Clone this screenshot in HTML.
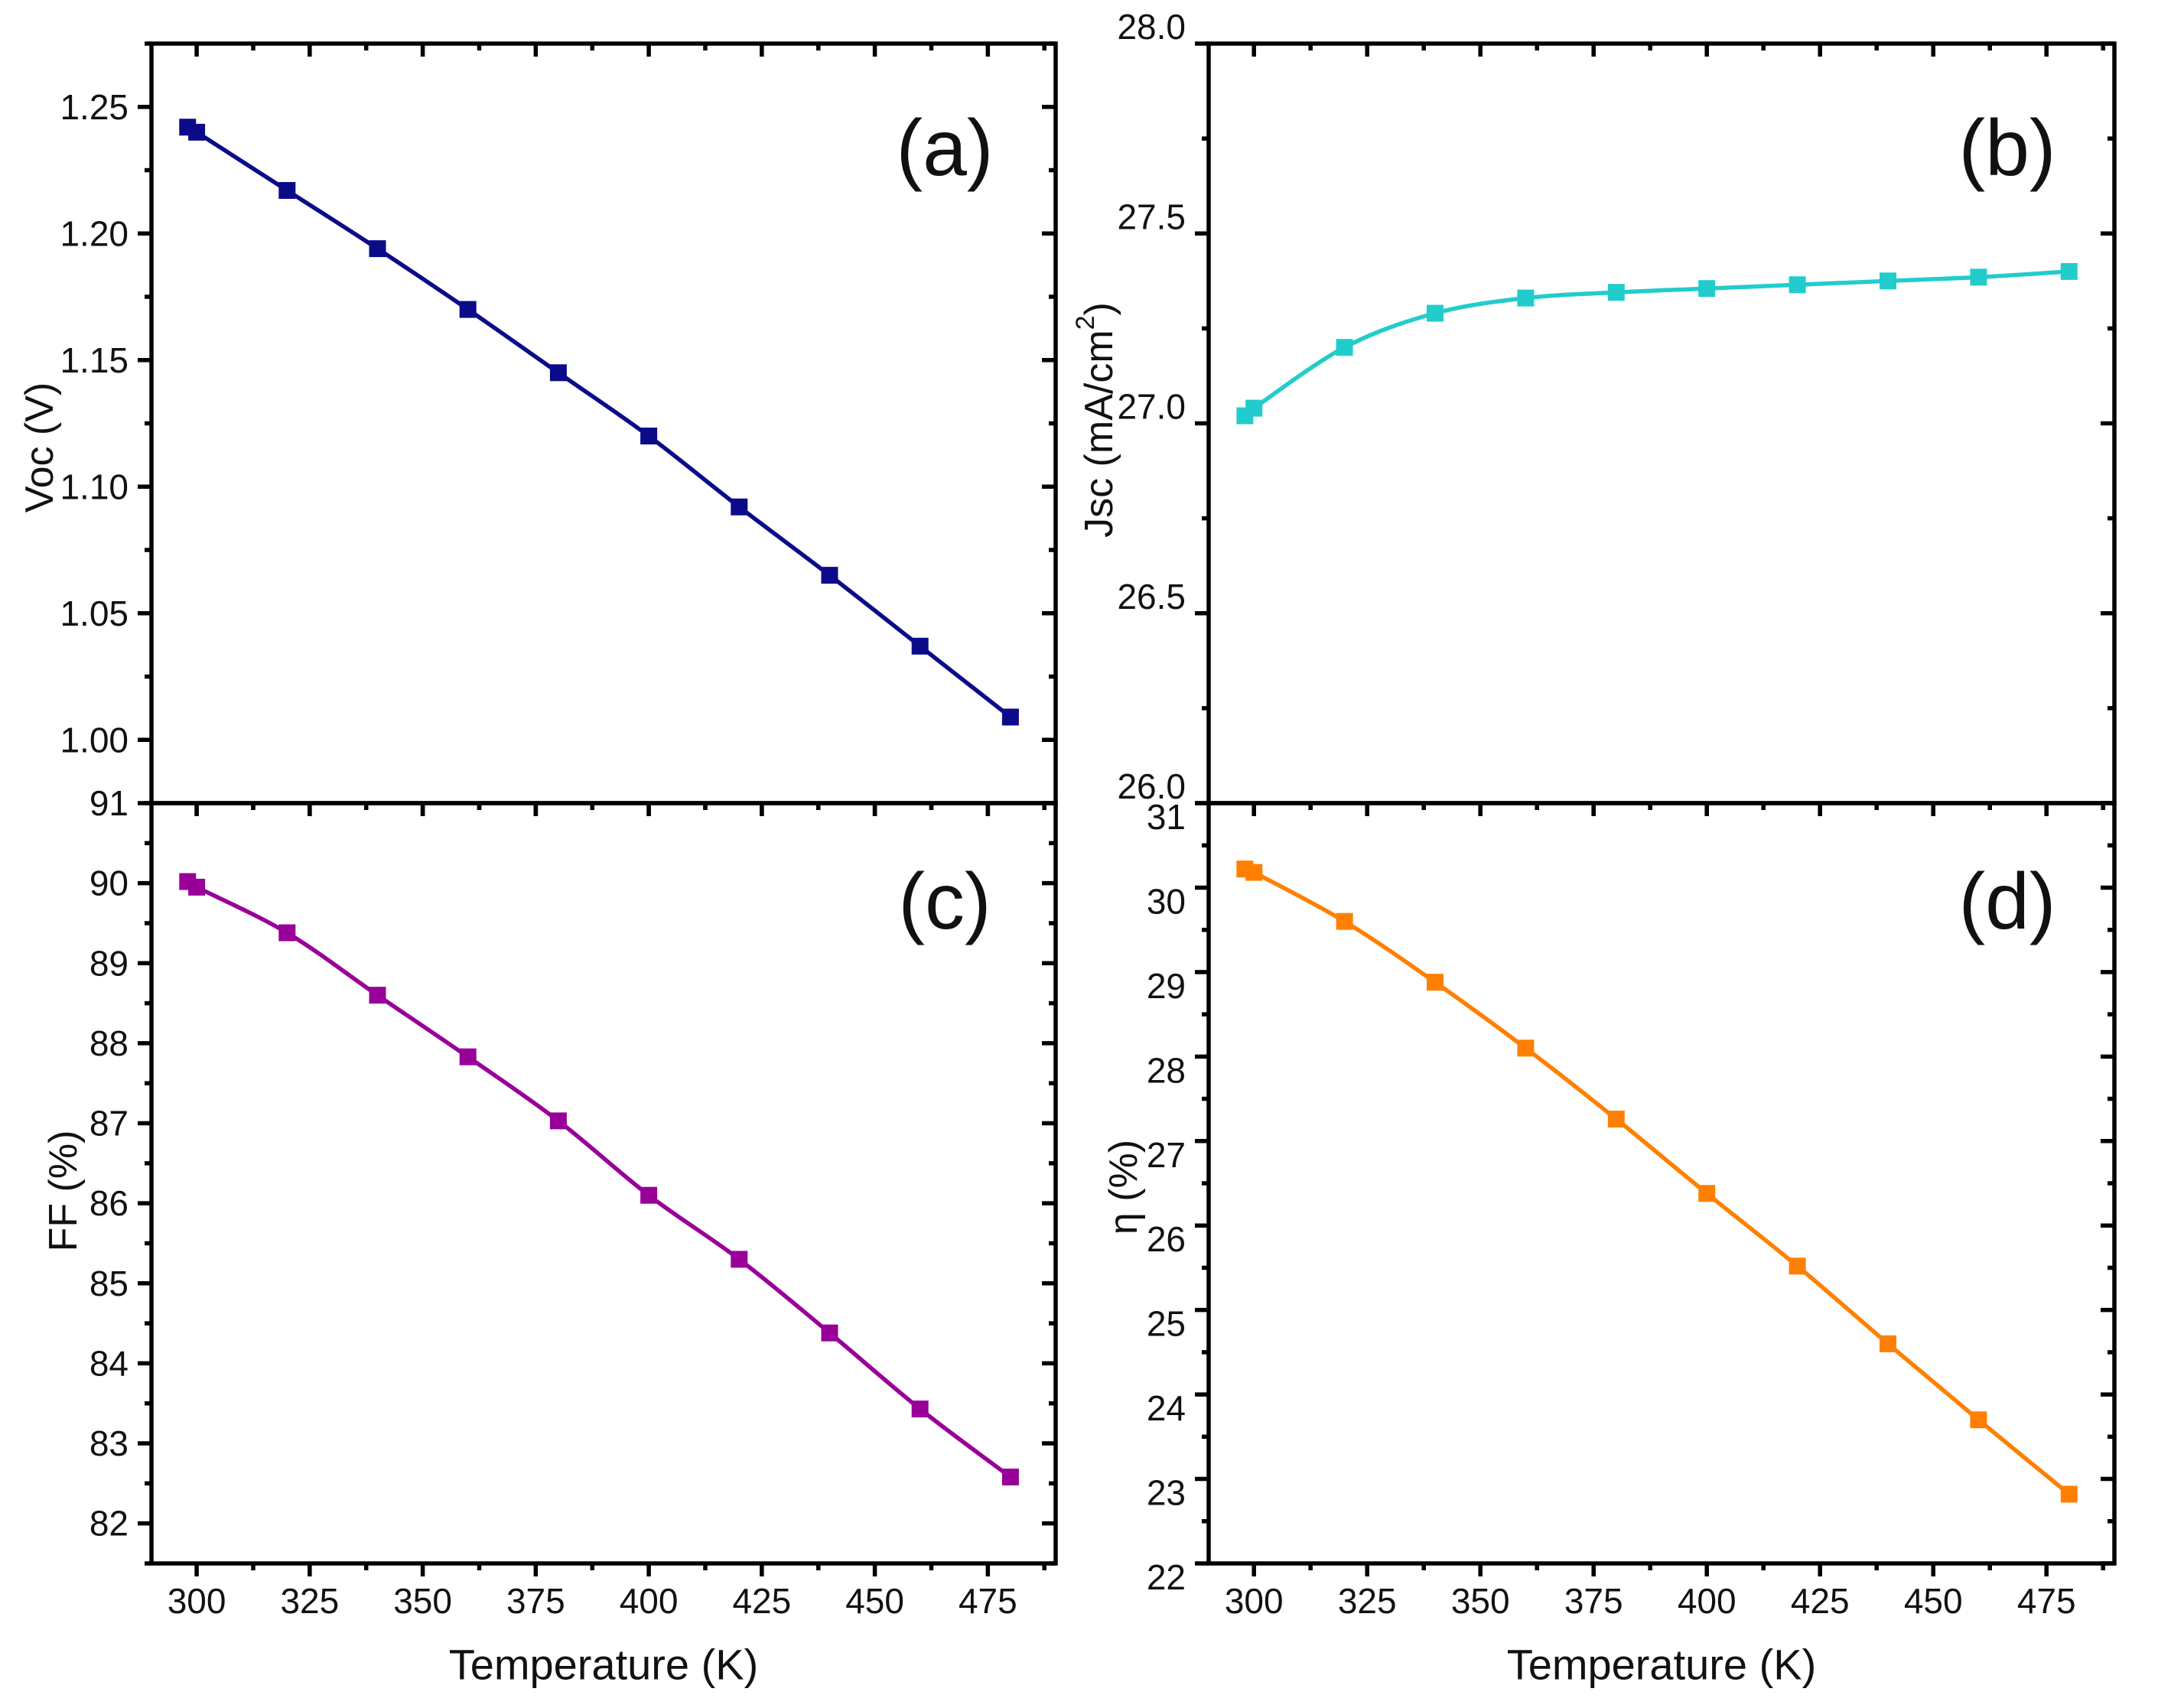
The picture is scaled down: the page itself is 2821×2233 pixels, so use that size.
<!DOCTYPE html>
<html><head><meta charset="utf-8"><style>
html,body{margin:0;padding:0;background:#fff}
svg{display:block}
text{font-family:"Liberation Sans",Arial,sans-serif;fill:#111}
</style></head><body>
<svg id="fig" width="2821" height="2233" viewBox="0 0 2821 2233" xmlns="http://www.w3.org/2000/svg"></svg>
<script>
const temps = [298, 300, 320, 340, 360, 380, 400, 420, 440, 460, 480];
const vocValues = [1.242, 1.240, 1.217, 1.194, 1.170, 1.145, 1.120, 1.092, 1.065, 1.037, 1.009];
const jscValues = [27.02, 27.04, 27.20, 27.29, 27.33, 27.345, 27.355, 27.365, 27.375, 27.385, 27.40];
const ffValues = [90.02, 89.95, 89.38, 88.6, 87.83, 87.03, 86.1, 85.3, 84.38, 83.43, 82.58];
const etaValues = [30.22, 30.18, 29.6, 28.88, 28.1, 27.26, 26.38, 25.52, 24.6, 23.7, 22.82];
const xTickLabels = [300, 325, 350, 375, 400, 425, 450, 475];
const vocTicks = [1.00, 1.05, 1.10, 1.15, 1.20, 1.25];
const jscTicks = [26.0, 26.5, 27.0, 27.5, 28.0];
const ffTicks = [82, 83, 84, 85, 86, 87, 88, 89, 90, 91];
const etaTicks = [22, 23, 24, 25, 26, 27, 28, 29, 30, 31];

const NS = "http://www.w3.org/2000/svg";
const svg = document.getElementById('fig');
function mk(tag, attrs, parent) {
  const e = document.createElementNS(NS, tag);
  for (const k in attrs) e.setAttribute(k, attrs[k]);
  (parent || svg).appendChild(e);
  return e;
}

const panels = [
  {id:'a', x0:198, x1:1380, y0:57, y1:1050, ymin:0.975, ymax:1.275, minor:0.025, ticks:vocTicks, dec:2, vals:vocValues, color:'#0b0b8a', title:'Voc (V)', tx:52, ty:585, lab:'(a)', lx:1235, ly:194, lblOff:0, showX:false},
  {id:'b', x0:1580, x1:2764, y0:57, y1:1050, ymin:26, ymax:28, minor:0.25, ticks:jscTicks, dec:1, vals:jscValues, color:'#22cccc', title:'Jsc (mA/cm²)', tx:1437, ty:549, lab:'(b)', lx:2624, ly:194, lblOff:-22, showX:false},
  {id:'c', x0:198, x1:1380, y0:1050, y1:2044, ymin:81.5, ymax:91, minor:0.5, ticks:ffTicks, dec:0, vals:ffValues, color:'#990099', title:'FF (%)', tx:83, ty:1557, lab:'(c)', lx:1235, ly:1179, lblOff:0, showX:true},
  {id:'d', x0:1580, x1:2764, y0:1050, y1:2044, ymin:22, ymax:31, minor:0.5, ticks:etaTicks, dec:0, vals:etaValues, color:'#ff8000', title:'η (%)', tx:1469, ty:1552, lab:'(d)', lx:2624, ly:1179, lblOff:18, showX:true}
];
const XMIN = 290, XMAX = 490;

panels.forEach(p => {
  const g = mk('g', {});
  
  
  const sx = v => p.x0 + (v - XMIN) / (XMAX - XMIN) * (p.x1 - p.x0);
  const sy = v => p.y1 - (v - p.ymin) / (p.ymax - p.ymin) * (p.y1 - p.y0);

  const fr = mk('rect', {x:p.x0, y:p.y0, width:p.x1 - p.x0, height:p.y1 - p.y0, fill:'none', stroke:'#000', 'stroke-width':5.5}, g);
  
  

  for (let v = 300; v <= 487.5; v += 12.5) {
    const major = (v % 25 === 0);
    const L = major ? 17 : 9;
    const x = sx(v);
    mk('line', {x1:x, x2:x, y1:p.y1, y2:p.y1 + L, stroke:'#000', 'stroke-width':5.5}, g);
    mk('line', {x1:x, x2:x, y1:p.y0, y2:p.y0 + L, stroke:'#000', 'stroke-width':5.5}, g);
  }
  const nMin = Math.round((p.ymax - p.ymin) / p.minor);
  for (let i = 0; i <= nMin; i++) {
    const v = Math.ceil(p.ymin / p.minor) * p.minor + i * p.minor;
    if (v > p.ymax + 1e-9) break;
    const isMajor = p.ticks.some(t => Math.abs(t - v) < 1e-6);
    const L = isMajor ? 18 : 9;
    const y = sy(v);
    mk('line', {x1:p.x0 - L, x2:p.x0, y1:y, y2:y, stroke:'#000', 'stroke-width':5.5}, g);
    mk('line', {x1:p.x1 - L, x2:p.x1, y1:y, y2:y, stroke:'#000', 'stroke-width':5.5}, g);
  }
  p.ticks.forEach(t => {
    const tl = mk('text', {x:p.x0 - 30, y:sy(t) + p.lblOff, 'font-size':46, 'text-anchor':'end', 'dominant-baseline':'central'}, g);
    tl.textContent = t.toFixed(p.dec);
    
    
  });
  if (p.showX) {
    xTickLabels.forEach(t => {
      const tl = mk('text', {x:sx(t), y:2093, 'font-size':46, 'text-anchor':'middle', 'dominant-baseline':'central'}, g);
      tl.textContent = t;
      
      
    });
    const xt = mk('text', {x:(p.x0 + p.x1) / 2, y:2176, 'font-size':56, 'text-anchor':'middle', 'dominant-baseline':'central'}, g);
    xt.textContent = 'Temperature (K)';
    
    
  }
  const yt = mk('text', {x:p.tx, y:p.ty, 'font-size':52, 'text-anchor':'middle', 'dominant-baseline':'central', transform:`rotate(-90 ${p.tx} ${p.ty})`}, g);
  if (p.id === 'b') {
    yt.textContent = 'Jsc (mA/cm';
    const sup = mk('tspan', {'font-size':34, dy:-18}, yt);
    sup.textContent = '2';
    const cl = mk('tspan', {'font-size':52, dy:18}, yt);
    cl.textContent = ')';
  } else yt.textContent = p.title;
  
  

  const pl = mk('text', {x:p.lx, y:p.ly, 'font-size':104, 'text-anchor':'middle', 'dominant-baseline':'central'}, g);
  pl.textContent = p.lab;
  
  

  const pts = temps.map((t, i) => [sx(t), sy(p.vals[i])]);
  let d = `M${pts[0][0]},${pts[0][1]}`;
  for (let i = 0; i < pts.length - 1; i++) {
    const p0 = pts[Math.max(0, i - 1)], p1 = pts[i], p2 = pts[i + 1], p3 = pts[Math.min(pts.length - 1, i + 2)];
    const c1 = [p1[0] + (p2[0] - p0[0]) / 6, p1[1] + (p2[1] - p0[1]) / 6];
    const c2 = [p2[0] - (p3[0] - p1[0]) / 6, p2[1] - (p3[1] - p1[1]) / 6];
    d += ` C${c1[0]},${c1[1]} ${c2[0]},${c2[1]} ${p2[0]},${p2[1]}`;
  }
  const path = mk('path', {d:d, fill:'none', stroke:p.color, 'stroke-width':5.5}, g);
  
  
  pts.forEach(pt => {
    const m = mk('rect', {x:pt[0] - 11, y:pt[1] - 11, width:22, height:22, fill:p.color}, g);
    
    
  });
});
</script>
</body></html>
